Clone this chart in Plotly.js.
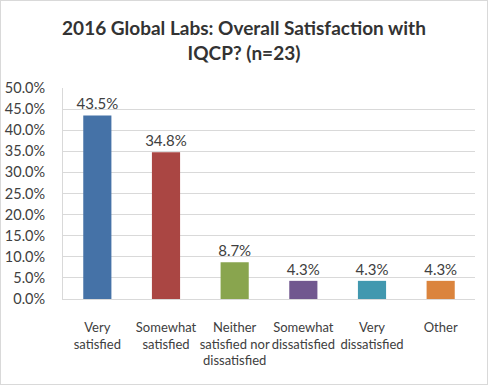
<!DOCTYPE html>
<html><head><meta charset="utf-8">
<script src="https://cdn.plot.ly/plotly-3.0.1.min.js"></script>
<style>html,body{margin:0;padding:0;background:#fff;}#c{width:486px;height:383px;border:1px solid #d9d9d9;}</style>
</head><body><div id="c"></div>
<script>
const categories = ["Very<br>satisfied","Somewhat<br>satisfied","Neither<br>satisfied nor<br>dissatisfied","Somewhat<br>dissatisfied","Very<br>dissatisfied","Other"];
const values = [43.5, 34.8, 8.7, 4.3, 4.3, 4.3];
const labels = ["43.5%","34.8%","8.7%","4.3%","4.3%","4.3%"];
const colors = ["#4572A7","#AA4643","#89A54E","#71588F","#4198AF","#DB843D"];
const tickVals = [0,5,10,15,20,25,30,35,40,45,50];
const tickText = ["0.0%","5.0%","10.0%","15.0%","20.0%","25.0%","30.0%","35.0%","40.0%","45.0%","50.0%"];
const F = "Lato, 'Open Sans', sans-serif";
Plotly.newPlot('c', [{
  type:'bar', x:categories, y:values, text:labels, textposition:'outside', constraintext:'none',
  textfont:{family:F, size:15, color:'#404040'}, cliponaxis:false,
  marker:{color:colors}, hoverinfo:'none'
}], {
  width:486, height:383,
  margin:{l:62, r:12, t:87, b:85},
  paper_bgcolor:'#fff', plot_bgcolor:'#fff',
  title:{text:"<b>2016 Global Labs: Overall Satisfaction with<br>IQCP? (n=23)</b>", font:{family:F, size:19, color:'#333'}, x:0.5, xanchor:'center', y:0.91, yanchor:'middle'},
  bargap:0.59,
  xaxis:{showline:true, linecolor:'#d9d9d9', tickangle:0, tickfont:{family:F, size:13, color:'#404040'}, ticks:'', ticklabelstandoff:16, fixedrange:true},
  yaxis:{range:[0,50], tickvals:tickVals, ticktext:tickText, showgrid:true, gridcolor:'#d9d9d9', showline:true, linecolor:'#d9d9d9', zeroline:false, tickfont:{family:F, size:14.5, color:'#404040'}, ticks:'', ticklabelstandoff:14, fixedrange:true},
  showlegend:false
}, {displayModeBar:false, staticPlot:true});
</script></body></html>
